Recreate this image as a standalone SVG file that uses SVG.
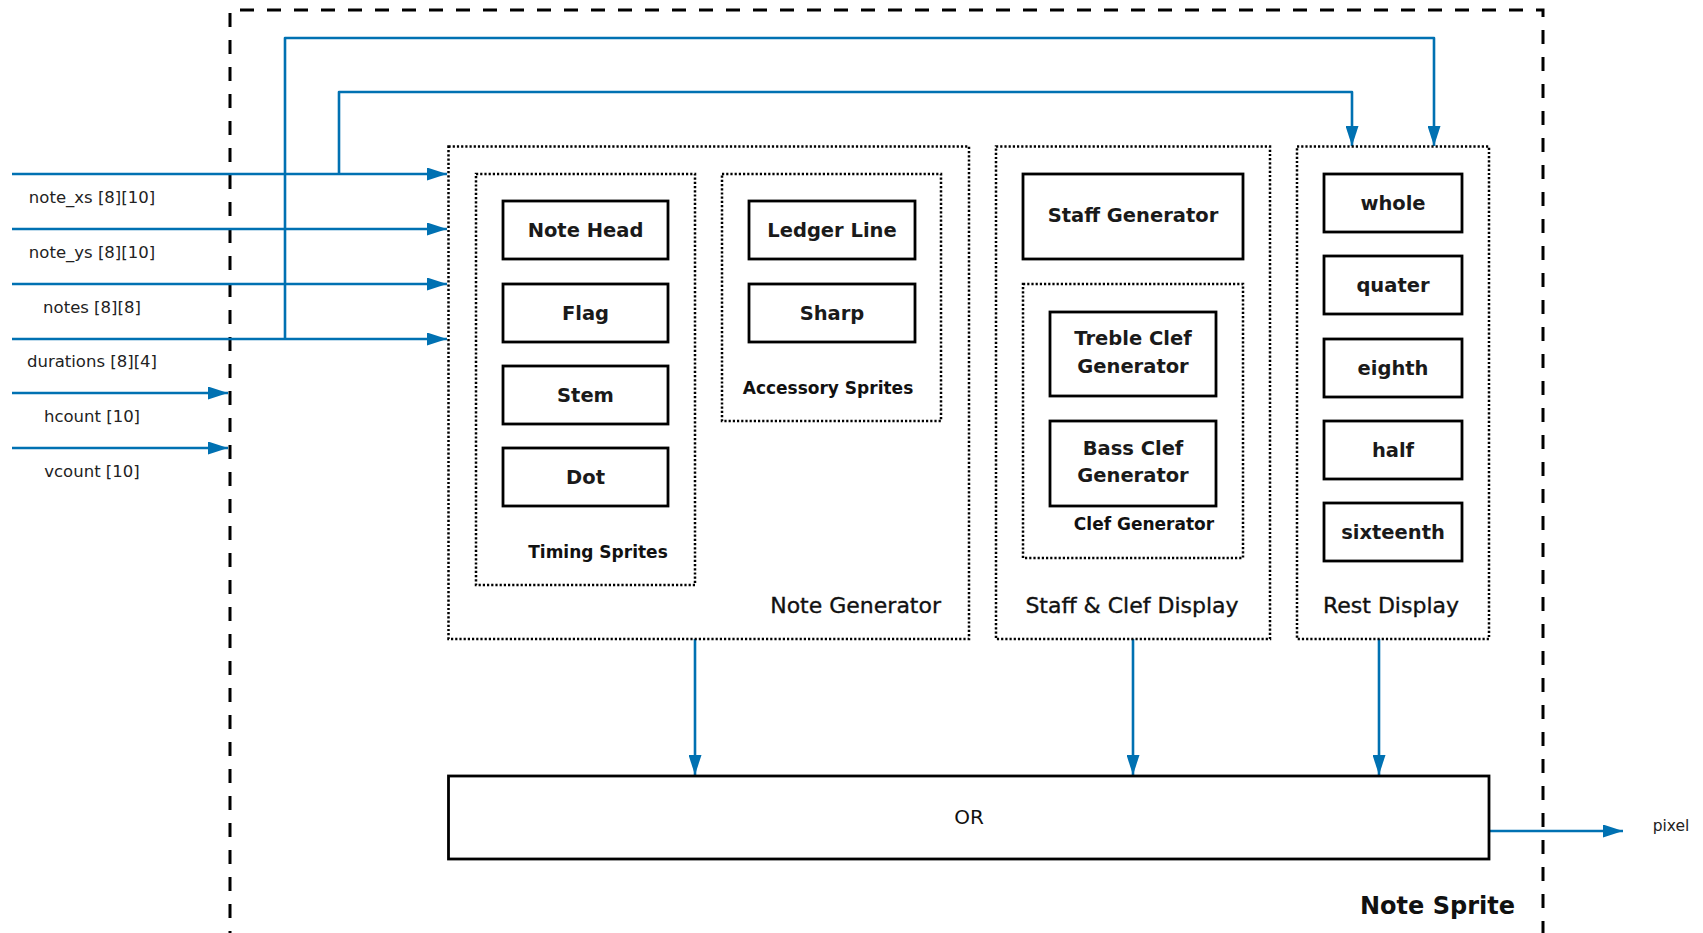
<svg xmlns="http://www.w3.org/2000/svg" width="1703" height="933" viewBox="0 0 1703 933">
  <style>
    .box { fill: #ffffff; stroke: #000000; stroke-width: 2.8; }
    .grp { fill: none; stroke: #000000; stroke-width: 2.5; stroke-dasharray: 2.2 2; }
    .outer { fill: none; stroke: #000000; stroke-width: 3; stroke-dasharray: 14 13; }
    .wire { fill: none; stroke: #0071b2; stroke-width: 2.6; stroke-linejoin: round; }
    .arr { marker-end: url(#ah); }
    text { font-family: "DejaVu Sans", "Liberation Sans", sans-serif; fill: #111111; }
    .bt { font-size: 19.5px; font-weight: bold; text-anchor: middle; fill: #1a1a1a; }
    .gl { font-size: 17px; font-weight: bold; text-anchor: middle; }
    .cl { font-size: 22px; text-anchor: middle; stroke: #111111; stroke-width: 0.35; }
    .io { font-size: 16.5px; text-anchor: middle; fill: #222222; }
  </style>
  <defs>
    <marker id="ah" markerUnits="userSpaceOnUse" viewBox="0 0 20 13" refX="20" refY="6.5" markerWidth="20" markerHeight="13" orient="auto">
      <path d="M0,0 L20,6.5 L0,13 z" fill="#0071b2"/>
    </marker>
  </defs>
  <rect width="1703" height="933" fill="#ffffff"/>

  <g id="note-sprite">
    <path class="outer" d="M230,945 V10 H1543 V945"/>
    <text x="1437.5" y="914" style="font-size:24px;font-weight:bold;text-anchor:middle">Note Sprite</text>
  </g>

  <g id="connectors">
    <path class="wire arr" d="M12,174 H447"/>
    <path class="wire arr" d="M12,229 H447"/>
    <path class="wire arr" d="M12,284 H447"/>
    <path class="wire arr" d="M12,339 H447"/>
    <path class="wire arr" d="M12,393 H228"/>
    <path class="wire arr" d="M12,448 H228"/>
    <path class="wire arr" d="M285,339 V38 H1434 V146"/>
    <path class="wire arr" d="M339,174 V92 H1352 V146"/>
    <path class="wire arr" d="M695,639 V775"/>
    <path class="wire arr" d="M1133,639 V775"/>
    <path class="wire arr" d="M1379,639 V775"/>
    <path class="wire arr" d="M1489,831 H1623"/>
  </g>

  <g id="inputs">
    <text class="io" x="92" y="202.5">note_xs [8][10]</text>
    <text class="io" x="92" y="257.5">note_ys [8][10]</text>
    <text class="io" x="92" y="312.5">notes [8][8]</text>
    <text class="io" x="92" y="367">durations [8][4]</text>
    <text class="io" x="92" y="421.5">hcount [10]</text>
    <text class="io" x="92" y="476.5">vcount [10]</text>
    <text x="1671" y="831" style="font-size:15.5px;text-anchor:middle;fill:#222222">pixel</text>
  </g>

  <g id="note-generator">
    <rect class="grp" x="448.5" y="146.5" width="520.5" height="492.5"/>
    <text class="cl" x="941" y="613" style="text-anchor:end">Note Generator</text>
  </g>
  <g id="timing-sprites">
    <rect class="grp" x="476" y="174" width="219" height="411"/>
    <text class="gl" x="598" y="558">Timing Sprites</text>
  </g>
  <g id="note-head">
    <rect class="box" x="503" y="201" width="165" height="58"/>
    <text class="bt" x="585.5" y="237">Note Head</text>
  </g>
  <g id="flag">
    <rect class="box" x="503" y="284" width="165" height="58"/>
    <text class="bt" x="585.5" y="320">Flag</text>
  </g>
  <g id="stem">
    <rect class="box" x="503" y="366" width="165" height="58"/>
    <text class="bt" x="585.5" y="402">Stem</text>
  </g>
  <g id="dot">
    <rect class="box" x="503" y="448" width="165" height="58"/>
    <text class="bt" x="585.5" y="484">Dot</text>
  </g>
  <g id="accessory-sprites">
    <rect class="grp" x="722" y="174" width="219" height="247"/>
    <text class="gl" x="828" y="394">Accessory Sprites</text>
  </g>
  <g id="ledger-line">
    <rect class="box" x="749" y="201" width="166" height="58"/>
    <text class="bt" x="832" y="237">Ledger Line</text>
  </g>
  <g id="sharp">
    <rect class="box" x="749" y="284" width="166" height="58"/>
    <text class="bt" x="832" y="320">Sharp</text>
  </g>

  <g id="staff-clef-display">
    <rect class="grp" x="996" y="146.5" width="274" height="492.5"/>
    <text class="cl" x="1132" y="613">Staff &amp; Clef Display</text>
  </g>
  <g id="staff-generator">
    <rect class="box" x="1023" y="174" width="220" height="85"/>
    <text class="bt" x="1133" y="222">Staff Generator</text>
  </g>
  <g id="clef-generator">
    <rect class="grp" x="1023" y="284" width="220" height="274"/>
    <text class="gl" x="1144" y="530">Clef Generator</text>
  </g>
  <g id="treble-clef-generator">
    <rect class="box" x="1050" y="312" width="166" height="84"/>
    <text class="bt" x="1133" y="345">Treble Clef</text>
    <text class="bt" x="1133" y="373">Generator</text>
  </g>
  <g id="bass-clef-generator">
    <rect class="box" x="1050" y="421" width="166" height="85"/>
    <text class="bt" x="1133" y="455">Bass Clef</text>
    <text class="bt" x="1133" y="482">Generator</text>
  </g>

  <g id="rest-display">
    <rect class="grp" x="1297" y="146.5" width="192" height="492.5"/>
    <text class="cl" x="1391" y="613">Rest Display</text>
  </g>
  <g id="whole">
    <rect class="box" x="1324" y="174" width="138" height="58"/>
    <text class="bt" x="1393" y="210">whole</text>
  </g>
  <g id="quater">
    <rect class="box" x="1324" y="256" width="138" height="58"/>
    <text class="bt" x="1393" y="292">quater</text>
  </g>
  <g id="eighth">
    <rect class="box" x="1324" y="339" width="138" height="58"/>
    <text class="bt" x="1393" y="375">eighth</text>
  </g>
  <g id="half">
    <rect class="box" x="1324" y="421" width="138" height="58"/>
    <text class="bt" x="1393" y="457">half</text>
  </g>
  <g id="sixteenth">
    <rect class="box" x="1324" y="503" width="138" height="58"/>
    <text class="bt" x="1393" y="539">sixteenth</text>
  </g>

  <g id="or">
    <rect class="box" x="448.5" y="776" width="1040.5" height="83"/>
    <text x="969" y="824" style="font-size:20px;text-anchor:middle">OR</text>
  </g>
</svg>
